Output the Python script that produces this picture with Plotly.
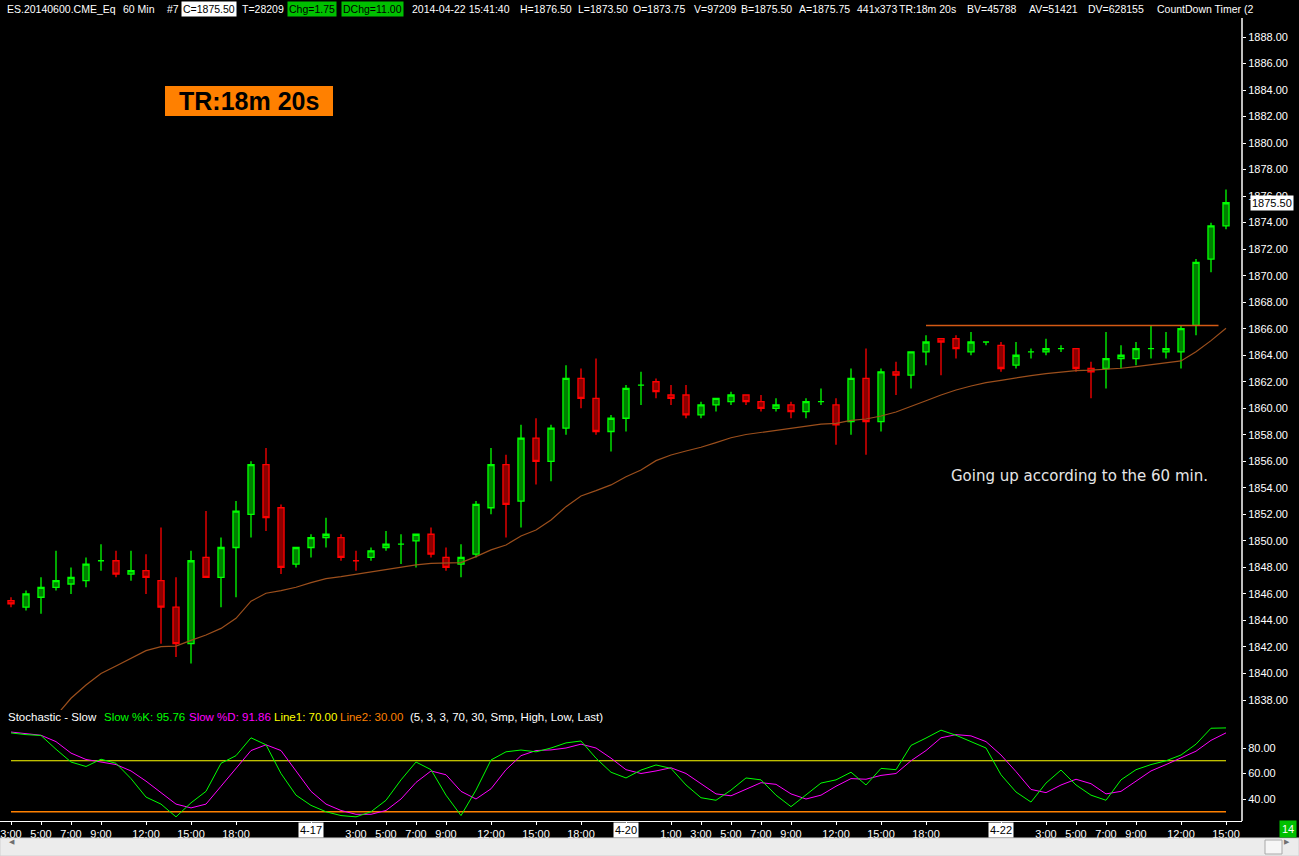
import plotly.graph_objects as go

W, H = 1299, 856

# ---------------- data ----------------
opens = [1845.5, 1845.0, 1845.75, 1846.5, 1846.75, 1847.0, 1848.5, 1848.5, 1847.5, 1847.75,
         1847.0, 1845.0, 1842.25, 1848.75, 1847.25, 1849.5, 1852.0, 1855.75, 1852.5, 1848.25,
         1849.5, 1850.25, 1850.25, 1848.5, 1848.75, 1849.5, 1849.75, 1850.0, 1850.5, 1848.75,
         1848.25, 1849.0, 1852.5, 1855.75, 1853.0, 1857.75, 1856.0, 1858.5, 1862.25, 1860.75,
         1858.25, 1859.25, 1861.75, 1862.0, 1861.0, 1861.0, 1859.5, 1860.25, 1860.5, 1861.0,
         1860.5, 1860.0, 1860.25, 1859.75, 1860.5, 1860.25, 1859.0, 1862.25, 1859.0, 1862.75,
         1862.5, 1864.25, 1865.25, 1865.25, 1864.25, 1865.0, 1864.75, 1863.25, 1864.25, 1864.25,
         1864.5, 1864.5, 1863.0, 1863.0, 1863.75, 1863.75, 1864.5, 1864.25, 1864.25, 1866.25,
         1871.25, 1873.75]
highs = [1845.75, 1846.25, 1847.25, 1849.25, 1848.0, 1848.75, 1849.75, 1849.25, 1849.25, 1849.0,
         1851.0, 1847.25, 1849.25, 1852.25, 1850.25, 1853.0, 1856.0, 1857.0, 1852.75, 1849.5,
         1850.5, 1851.75, 1850.5, 1849.25, 1849.5, 1850.75, 1850.5, 1850.5, 1851.0, 1849.5,
         1849.75, 1853.0, 1857.0, 1856.5, 1858.75, 1859.25, 1858.75, 1863.25, 1863.0, 1863.75,
         1859.5, 1861.75, 1862.75, 1862.25, 1861.75, 1861.75, 1860.5, 1860.75, 1861.25, 1861.0,
         1861.0, 1860.75, 1860.5, 1860.75, 1861.5, 1860.75, 1863.0, 1864.5, 1863.0, 1863.5,
         1864.25, 1865.5, 1865.25, 1865.5, 1865.75, 1865.0, 1865.0, 1865.0, 1864.5, 1865.25,
         1864.75, 1864.5, 1863.5, 1865.75, 1864.75, 1865.0, 1866.25, 1865.75, 1866.25, 1871.25,
         1874.0, 1876.5]
lows = [1845.0, 1844.75, 1844.5, 1846.25, 1846.0, 1846.5, 1847.75, 1847.25, 1847.0, 1846.0,
        1842.25, 1841.25, 1840.75, 1847.25, 1845.0, 1845.75, 1850.25, 1850.75, 1847.5, 1848.0,
        1848.75, 1849.5, 1848.5, 1847.75, 1848.5, 1849.25, 1848.25, 1848.0, 1848.75, 1847.75,
        1847.25, 1848.75, 1852.0, 1850.25, 1851.0, 1854.25, 1854.5, 1858.0, 1860.0, 1858.0,
        1856.75, 1858.25, 1860.25, 1860.75, 1860.25, 1859.25, 1859.25, 1859.75, 1860.25, 1860.25,
        1859.75, 1859.75, 1859.25, 1859.25, 1860.25, 1857.25, 1858.0, 1856.5, 1858.25, 1861.0,
        1861.5, 1863.25, 1862.5, 1863.75, 1864.0, 1864.75, 1862.75, 1863.0, 1863.75, 1864.0,
        1864.25, 1862.75, 1860.75, 1861.5, 1863.0, 1863.25, 1863.75, 1863.75, 1863.0, 1865.5,
        1870.25, 1873.5]
closes = [1845.25, 1846.0, 1846.5, 1847.0, 1847.25, 1848.25, 1848.5, 1847.5, 1847.75, 1847.25,
          1845.0, 1842.25, 1848.5, 1847.25, 1849.5, 1852.25, 1855.75, 1851.75, 1848.0, 1849.5,
          1850.25, 1850.5, 1848.75, 1848.5, 1849.25, 1849.75, 1849.75, 1850.5, 1849.0, 1848.0,
          1848.75, 1852.75, 1855.75, 1852.75, 1857.75, 1856.0, 1858.5, 1862.25, 1860.75, 1858.25,
          1859.25, 1861.5, 1861.75, 1861.25, 1860.75, 1859.5, 1860.25, 1860.75, 1861.0, 1860.5,
          1860.0, 1860.25, 1859.75, 1860.5, 1860.5, 1858.75, 1862.25, 1859.0, 1862.75, 1862.5,
          1864.25, 1865.0, 1865.0, 1864.5, 1865.0, 1865.0, 1863.0, 1864.0, 1864.25, 1864.5,
          1864.5, 1863.0, 1862.75, 1863.75, 1864.0, 1864.5, 1864.5, 1864.5, 1866.0, 1871.0,
          1873.75, 1875.5]

ma_values = [None, None, None, 1836.8, 1838.13, 1839.13, 1840.0, 1840.57, 1841.14, 1841.72,
             1842.02, 1842.07, 1842.5, 1842.9, 1843.4, 1844.16, 1845.45, 1846.05, 1846.25, 1846.5,
             1846.85, 1847.15, 1847.3, 1847.48, 1847.63, 1847.81, 1848.01, 1848.19, 1848.31, 1848.31,
             1848.36, 1848.81, 1849.32, 1849.69, 1850.37, 1850.82, 1851.58, 1852.58, 1853.39, 1853.79,
             1854.22, 1854.84, 1855.35, 1856.05, 1856.48, 1856.78, 1857.06, 1857.41, 1857.78, 1858.02,
             1858.18, 1858.36, 1858.54, 1858.69, 1858.81, 1858.86, 1859.09, 1859.19, 1859.42, 1859.72,
             1860.12, 1860.57, 1861.0, 1861.38, 1861.68, 1861.93, 1862.11, 1862.26, 1862.46, 1862.62,
             1862.74, 1862.84, 1862.87, 1862.94, 1863.02, 1863.14, 1863.27, 1863.39, 1863.57, 1864.27,
             1865.10, 1866.03]

slow_k = [91.8, 90.5, 89.8, 79, 69, 65.5, 71.2, 68, 56, 41.5,
          36, 26, 37, 46, 68, 74, 88, 82.5, 60, 43,
          35, 30, 27, 26, 30, 39, 55, 69, 63, 43,
          27, 47, 70.6, 77, 78.4, 77, 80, 84, 85.5, 72,
          61, 56.5, 62.7, 66.7, 64, 51, 41, 39, 47, 56.5,
          55, 43, 34, 43, 52.5, 55, 61, 51, 64, 63,
          82, 87.8, 94, 90, 84.7, 80, 59, 45.5, 37.6, 52.5,
          62.7, 51, 43, 39, 55, 63, 67, 70, 74.5, 83,
          95.5, 95.76]
slow_d = [92.5, 91, 90, 85, 76, 71, 69, 67, 62, 54,
          45, 36, 33, 36, 50, 64, 78, 82.5, 78, 62,
          46, 36, 31, 28, 28, 31, 40, 53, 62, 59,
          46, 40, 48, 63, 74, 78, 78.5, 80, 83, 80,
          72, 63, 60, 62, 64.5, 60, 52, 44, 42.5, 47.5,
          52.8, 51.5, 44, 40, 43, 50, 56, 55.5, 58.5, 60,
          70, 78, 88, 90.5, 89.5, 85, 74.5, 61.5, 47.5, 45,
          51, 55.5, 52, 44, 46, 54, 62, 67, 72, 77.5,
          86, 91.86]
line1_level = 70
line2_level = 30

trend_bars = [61, 80.5]
trend_level = 1866.25

tick_bars = [0, 2, 4, 6, 9, 12, 15, 20, 23, 25, 27, 29, 32, 35, 38, 41, 44, 46, 48, 50, 52,
             55, 58, 61, 66, 69, 71, 73, 75, 78, 81]
tick_labels = ["3:00", "5:00", "7:00", "9:00", "12:00", "15:00", "18:00", "", "3:00", "5:00",
               "7:00", "9:00", "12:00", "15:00", "18:00", "", "1:00", "3:00", "5:00", "7:00",
               "9:00", "12:00", "15:00", "18:00", "", "3:00", "5:00", "7:00", "9:00", "12:00",
               "15:00"]
date_bars = [20, 41, 66]
date_labels = ["4-17", "4-20", "4-22"]

last_price = 1875.50

# ---------------- helpers ----------------
def px(x):
    return x / W


def py(y):
    return 1 - y / H


n = len(closes)
idx = list(range(n))

# up/down classification (doji colored by change vs previous close)
up_mask = []
for i in range(n):
    if closes[i] > opens[i]:
        up_mask.append(True)
    elif closes[i] < opens[i]:
        up_mask.append(False)
    else:
        prev = closes[i - 1] if i > 0 else closes[i]
        up_mask.append(closes[i] >= prev)


def subset(arr, want):
    return [v for v, m in zip(arr, up_mask) if m == want]


UP_LINE, UP_FILL = "#00ff00", "#008000"
DN_LINE, DN_FILL = "#ff0000", "#8b0000"

fig = go.Figure()

# moving average
fig.add_trace(go.Scatter(x=idx, y=ma_values, mode="lines",
                         line=dict(color="#9c4f1c", width=1.2),
                         xaxis="x", yaxis="y", hoverinfo="skip", connectgaps=False))

for want, lc, fc in [(True, UP_LINE, UP_FILL), (False, DN_LINE, DN_FILL)]:
    fig.add_trace(go.Candlestick(
        x=subset(idx, want), open=subset(opens, want), high=subset(highs, want),
        low=subset(lows, want), close=subset(closes, want),
        increasing=dict(line=dict(color=lc, width=1.3), fillcolor=fc),
        decreasing=dict(line=dict(color=lc, width=1.3), fillcolor=fc),
        whiskerwidth=0, xaxis="x", yaxis="y", showlegend=False))

# horizontal trend line
fig.add_trace(go.Scatter(x=trend_bars, y=[trend_level, trend_level], mode="lines",
                         line=dict(color="#d35a14", width=1.5),
                         xaxis="x", yaxis="y", hoverinfo="skip"))

# stochastic
fig.add_trace(go.Scatter(x=idx, y=[line1_level] * n, mode="lines",
                         line=dict(color="#ffff00", width=1.2), xaxis="x2", yaxis="y2"))
fig.add_trace(go.Scatter(x=idx, y=[line2_level] * n, mode="lines",
                         line=dict(color="#ff8000", width=1.6), xaxis="x2", yaxis="y2"))
fig.add_trace(go.Scatter(x=idx, y=slow_d, mode="lines",
                         line=dict(color="#ff00ff", width=1), xaxis="x2", yaxis="y2"))
fig.add_trace(go.Scatter(x=idx, y=slow_k, mode="lines",
                         line=dict(color="#00ff00", width=1), xaxis="x2", yaxis="y2"))

FONT = "Liberation Sans, Arial, sans-serif"
x_right = 1242
x_range = [-11 / 15, (x_right - 11) / 15]

fig.update_layout(
    width=W, height=H,
    margin=dict(l=0, r=0, t=0, b=0),
    paper_bgcolor="black", plot_bgcolor="black",
    showlegend=False,
    boxgap=0.42,
    font=dict(family=FONT, color="white", size=11),
    xaxis=dict(domain=[0, px(x_right)], range=x_range, anchor="y",
               showticklabels=False, showgrid=False, zeroline=False,
               rangeslider=dict(visible=False), fixedrange=True),
    yaxis=dict(domain=[py(710), py(20)], range=[1888 - (710 - 37) / 13.26, 1888 + 17 / 13.26],
               side="right", anchor="x", tick0=1838, dtick=2, tickformat=".2f",
               ticks="outside", ticklen=3, tickcolor="white",
               tickfont=dict(color="white", size=11, family=FONT),
               showgrid=False, zeroline=False),
    xaxis2=dict(domain=[0, px(x_right)], range=x_range, anchor="y2", matches="x",
                tickmode="array", tickvals=tick_bars, ticktext=tick_labels,
                ticks="outside", ticklen=3, tickcolor="white",
                showline=True, linecolor="white", linewidth=1,
                tickfont=dict(color="white", size=11, family=FONT),
                showgrid=False, zeroline=False),
    yaxis2=dict(domain=[py(821), py(722)], range=[80 - (821 - 748) / 1.275, 80 + (748 - 722) / 1.275],
                side="right", anchor="x2", tickmode="array", tickvals=[40, 60, 80],
                tickformat=".2f", ticks="outside", ticklen=3, tickcolor="white",
                tickfont=dict(color="white", size=11, family=FONT),
                showgrid=False, zeroline=False),
)

shapes = []
# right axis vertical white line
shapes.append(dict(type="line", xref="paper", yref="paper", x0=px(x_right), x1=px(x_right),
                   y0=py(821), y1=py(18), line=dict(color="white", width=1.5)))
# TR box
shapes.append(dict(type="rect", xref="paper", yref="paper", x0=px(165), x1=px(333),
                   y0=py(116), y1=py(86), fillcolor="#ff8000", line=dict(width=0)))
# scrollbar
shapes.append(dict(type="rect", xref="paper", yref="paper", x0=0, x1=1,
                   y0=0, y1=py(838), fillcolor="#ececec", line=dict(color="#d0d0d0", width=1)))
shapes.append(dict(type="rect", xref="paper", yref="paper", x0=px(1265), x1=px(1282),
                   y0=py(854), y1=py(840), fillcolor="#f6f6f6", line=dict(color="#a8a8a8", width=1)))
fig.update_layout(shapes=shapes)

ann = []
# header tokens
hy = py(9)
header = [
    (5, "ES.20140600.CME_Eq", None, "white"),
    (121, "60 Min", None, "white"),
    (165, "#7", None, "white"),
    (181, "C=1875.50", "white", "black"),
    (240, "T=28209", None, "white"),
    (287, "Chg=1.75", "#00c000", "black"),
    (341, "DChg=11.00", "#00c000", "black"),
    (410, "2014-04-22 15:41:40", None, "white"),
    (518, "H=1876.50", None, "white"),
    (576, "L=1873.50", None, "white"),
    (631, "O=1873.75", None, "white"),
    (692, "V=97209", None, "white"),
    (739, "B=1875.50", None, "white"),
    (797, "A=1875.75", None, "white"),
    (855, "441x373", None, "white"),
    (897, "TR:18m 20s", None, "white"),
    (965, "BV=45788", None, "white"),
    (1027, "AV=51421", None, "white"),
    (1086, "DV=628155", None, "white"),
    (1155, "CountDown Timer", None, "white"),
    (1242, "(2", None, "white"),
]
for x, t, bg, col in header:
    a = dict(xref="paper", yref="paper", x=px(x), y=hy, text=t, showarrow=False,
             xanchor="left", yanchor="middle", font=dict(color=col, size=10.5, family=FONT),
             borderpad=1)
    if bg:
        a["bgcolor"] = bg
    ann.append(a)

# TR label
ann.append(dict(xref="paper", yref="paper", x=px(249), y=py(101), text="<b>TR:18m 20s</b>",
                showarrow=False, xanchor="center", yanchor="middle",
                font=dict(color="black", size=25, family=FONT)))

# comment
ann.append(dict(xref="paper", yref="paper", x=px(949), y=py(476),
                text="Going up according to the 60 min.", showarrow=False,
                xanchor="left", yanchor="middle",
                font=dict(color="#e6e6e6", size=15, family="DejaVu Sans, sans-serif")))

# last price marker
ann.append(dict(xref="paper", yref="y", x=px(1250), y=last_price, text=f"{last_price:.2f}",
                showarrow=False, xanchor="left", yanchor="middle", bgcolor="white",
                font=dict(color="black", size=11, family=FONT), borderpad=1))

# stochastic header
sy = py(717)
stoch_hdr = [
    (6, "Stochastic - Slow", "white"),
    (102, f"Slow %K: {slow_k[-1]:.2f}", "#00ff00"),
    (187, f"Slow %D: {slow_d[-1]:.2f}", "#ff00ff"),
    (272, f"Line1: {line1_level:.2f}", "#ffff00"),
    (338, f"Line2: {line2_level:.2f}", "#ff8000"),
    (408, "(5, 3, 3, 70, 30, Smp, High, Low, Last)", "white"),
]
for x, t, col in stoch_hdr:
    ann.append(dict(xref="paper", yref="paper", x=px(x), y=sy, text=t, showarrow=False,
                    xanchor="left", yanchor="middle", font=dict(color=col, size=11.5, family=FONT)))

# date labels
for b, t in zip(date_bars, date_labels):
    ann.append(dict(xref="x2", yref="paper", x=b, y=py(830), text=t, showarrow=False,
                    xanchor="center", yanchor="middle", bgcolor="white",
                    font=dict(color="black", size=11, family=FONT), borderpad=1))

# green counter box
ann.append(dict(xref="paper", yref="paper", x=px(1288), y=py(829), text="14", showarrow=False,
                xanchor="center", yanchor="middle", bgcolor="#00c000",
                font=dict(color="white", size=11, family=FONT), borderpad=2))

# scrollbar arrows
ann.append(dict(xref="paper", yref="paper", x=px(7), y=py(847), text="◀", showarrow=False,
                font=dict(color="#707070", size=7)))
ann.append(dict(xref="paper", yref="paper", x=px(1292), y=py(847), text="▶", showarrow=False,
                font=dict(color="#707070", size=7)))

fig.update_layout(annotations=ann)

fig.write_html("out.html", config={"displayModeBar": False},
               post_script="document.body.style.margin='0';document.body.style.background='black';")
